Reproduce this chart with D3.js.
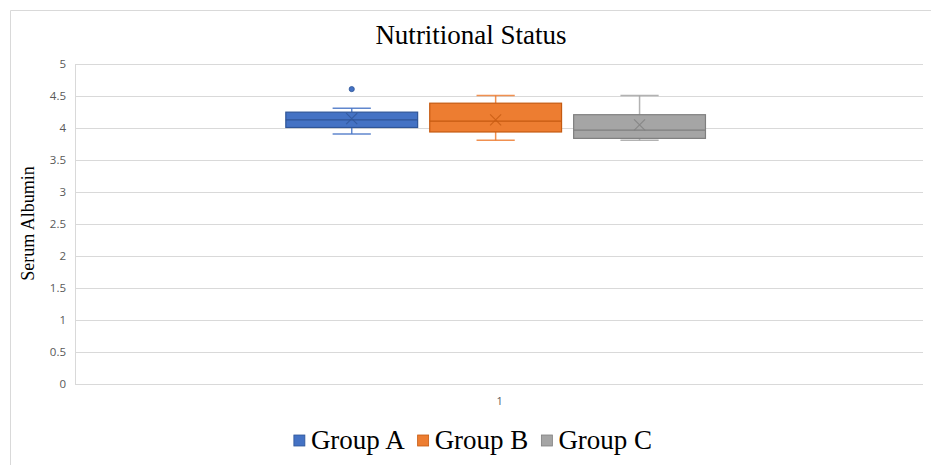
<!DOCTYPE html>
<html>
<head>
<meta charset="utf-8">
<script src="https://cdn.jsdelivr.net/npm/d3@7"></script>
<style>
  html, body { margin: 0; padding: 0; background: #fff; }
  svg { display: block; }
  .gray-aa { opacity: 0.999; }
</style>
</head>
<body>
<svg id="chart" width="931" height="465"></svg>
<script>
// ---- Data ----
const categories = ["1"];
const groups = ["Group A", "Group B", "Group C"];
const whiskerMin = [3.9, 3.8, 3.8];
const q1Values = [4.0, 3.93, 3.83];
const medianValues = [4.12, 4.1, 3.96];
const q3Values = [4.24, 4.38, 4.2];
const whiskerMax = [4.3, 4.5, 4.5];
const meanValues = [4.14, 4.12, 4.04];
const outlierValues = [[4.6], [], []];
const yTicks = [0, 0.5, 1, 1.5, 2, 2.5, 3, 3.5, 4, 4.5, 5];
const fillColors = ["#4472C4", "#ED7D31", "#A5A5A5"];
const strokeColors = ["#2F5597", "#C55A11", "#7F7F7F"];

const svg = d3.select("#chart");
const W = 931, H = 465;
const plot = { left: 75, right: 923, top: 63.5, bottom: 383.5 };

// outer chart border
svg.append("path")
  .attr("d", `M10.5,${H} L10.5,10.5 L${W},10.5`)
  .attr("fill", "none").attr("stroke", "#d9d9d9").attr("stroke-width", 1);

// title
svg.append("text")
  .attr("x", 471).attr("y", 44)
  .attr("text-anchor", "middle")
  .attr("font-family", "'Liberation Serif', 'Times New Roman', serif")
  .attr("font-size", 27).attr("fill", "#000")
  .text("Nutritional Status");

// scales
const y = d3.scaleLinear().domain([0, 5]).range([plot.bottom, plot.top]);
const x0 = d3.scaleBand().domain(categories).range([plot.left, plot.right])
  .paddingOuter(0.49).paddingInner(0).align(0.492);
const x1 = d3.scaleBand().domain(groups).range([0, x0.bandwidth()]).paddingInner(0.084).paddingOuter(0.03);

// gridlines
const grid = svg.append("g");
grid.selectAll("line").data(yTicks).join("line")
  .attr("x1", plot.left).attr("x2", plot.right)
  .attr("y1", d => Math.round(y(d)) + 0.5).attr("y2", d => Math.round(y(d)) + 0.5)
  .attr("stroke", "#d9d9d9").attr("stroke-width", 1);
// left plot line
svg.append("line")
  .attr("x1", plot.left + 0.5).attr("x2", plot.left + 0.5)
  .attr("y1", Math.round(y(5)) + 0.5).attr("y2", Math.round(y(0)) + 0.5)
  .attr("stroke", "#d9d9d9");

// y axis with d3 axis
const yAxis = d3.axisLeft(y).tickValues(yTicks).tickSize(0).tickPadding(9)
  .tickFormat(d => d3.format("")(d));
const yg = svg.append("g").attr("class", "gray-aa").attr("transform", `translate(${plot.left},0)`).call(yAxis);
yg.select(".domain").remove();
yg.selectAll("text")
  .attr("font-family", "'Open Sans', 'Liberation Sans', sans-serif")
  .attr("font-size", 11.5).attr("fill", "#595959").style("fill", "#595959");

// x axis
const xAxis = d3.axisBottom(x0).tickSize(0).tickPadding(14);
const xg = svg.append("g").attr("class", "gray-aa").call(xAxis);
xg.select(".domain").remove();
xg.attr("transform", `translate(4,${plot.bottom})`);
xg.selectAll("text")
  .attr("font-family", "'Open Sans', 'Liberation Sans', sans-serif")
  .attr("font-size", 11).attr("fill", "#595959").style("fill", "#595959");

// y axis title
svg.append("text")
  .attr("transform", `translate(34,${(plot.top + plot.bottom) / 2}) rotate(-90)`)
  .attr("text-anchor", "middle")
  .attr("font-family", "'Liberation Serif', 'Times New Roman', serif")
  .attr("font-size", 18).attr("fill", "#000")
  .text("Serum Albumin");

// boxes
const boxG = svg.append("g").attr("transform", `translate(${x0(categories[0])},0)`);
groups.forEach((g, i) => {
  const bx = x1(g), bw = x1.bandwidth(), cx = bx + bw / 2;
  const capW = bw * 0.29;
  const gg = boxG.append("g");
  const wcol = fillColors[i];
  // whiskers
  gg.append("line").attr("x1", cx).attr("x2", cx).attr("y1", y(whiskerMax[i])).attr("y2", y(q3Values[i]))
    .attr("stroke", wcol).attr("stroke-width", 1.5).attr("stroke-opacity", 0.85);
  gg.append("line").attr("x1", cx).attr("x2", cx).attr("y1", y(q1Values[i])).attr("y2", y(whiskerMin[i]))
    .attr("stroke", wcol).attr("stroke-width", 1.5).attr("stroke-opacity", 0.85);
  [whiskerMax[i], whiskerMin[i]].forEach(v => {
    gg.append("line").attr("x1", cx - capW / 2).attr("x2", cx + capW / 2).attr("y1", y(v)).attr("y2", y(v))
      .attr("stroke", wcol).attr("stroke-width", 1.5).attr("stroke-opacity", 0.85);
  });
  // box
  gg.append("rect")
    .attr("x", bx).attr("width", bw)
    .attr("y", y(q3Values[i])).attr("height", y(q1Values[i]) - y(q3Values[i]))
    .attr("fill", fillColors[i]).attr("stroke", strokeColors[i]).attr("stroke-width", 1.2);
  // median
  gg.append("line").attr("x1", bx).attr("x2", bx + bw).attr("y1", y(medianValues[i])).attr("y2", y(medianValues[i]))
    .attr("stroke", strokeColors[i]).attr("stroke-width", 1.2);
  // mean marker X
  const my = y(meanValues[i]), s = 5.5;
  gg.append("path")
    .attr("d", `M${cx - s},${my - s} L${cx + s},${my + s} M${cx - s},${my + s} L${cx + s},${my - s}`)
    .attr("stroke", strokeColors[i]).attr("stroke-width", 1.1).attr("fill", "none").attr("stroke-opacity", 0.8);
  // outliers
  gg.selectAll("circle.out").data(outlierValues[i]).join("circle")
    .attr("class", "out").attr("cx", cx).attr("cy", d => y(d)).attr("r", 2.6)
    .attr("fill", fillColors[i]).attr("stroke", strokeColors[i]).attr("stroke-width", 0.8);
});

// legend
const legend = svg.append("g");
const items = [];
groups.forEach((g, i) => {
  const it = legend.append("g");
  it.append("rect").attr("x", 0).attr("y", -14).attr("width", 11).attr("height", 11)
    .attr("fill", fillColors[i]).attr("stroke", strokeColors[i]).attr("stroke-width", 0.8);
  const t = it.append("text").attr("x", 17).attr("y", 0)
    .attr("font-family", "'Liberation Serif', 'Times New Roman', serif")
    .attr("font-size", 27).attr("fill", "#000").text(g);
  const w = 17 + t.node().getComputedTextLength();
  items.push({ it, w });
});
const gap = 13;
const total = items.reduce((a, b) => a + b.w, 0) + gap * (items.length - 1);
let start = 473 - total / 2;
items.forEach(o => { o.it.attr("transform", `translate(${start},449)`); start += o.w + gap; });
</script>
</body>
</html>
